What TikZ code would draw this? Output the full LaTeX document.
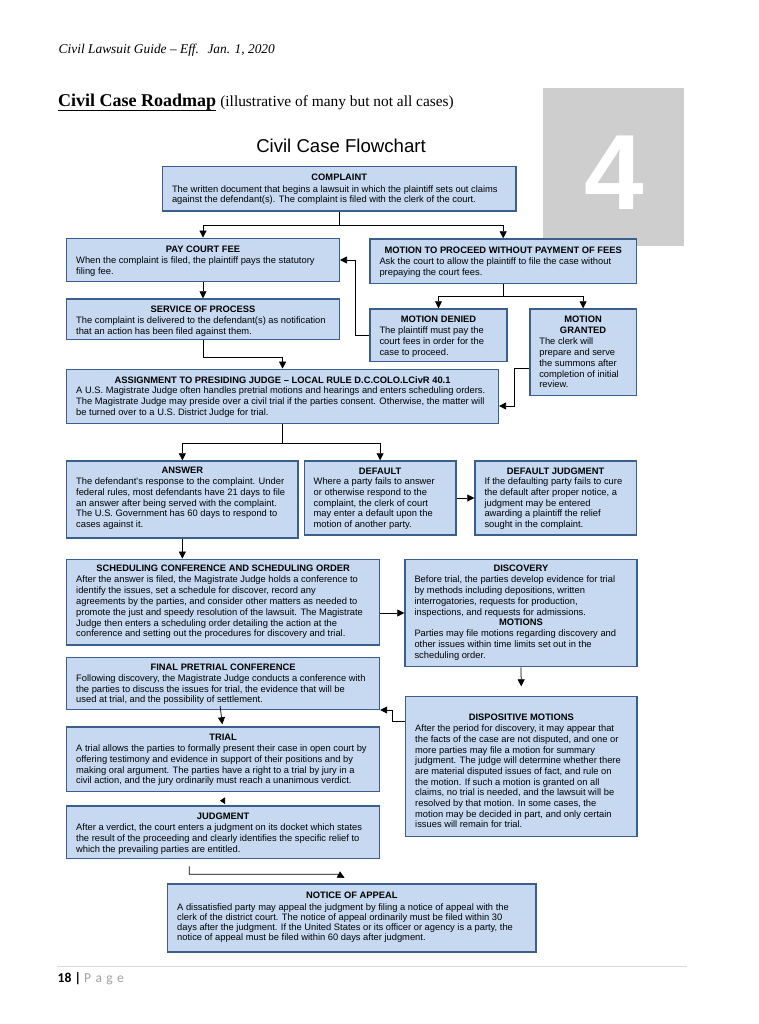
\documentclass[tikz,border=0pt]{standalone}
\usepackage{fontspec}
\setmainfont{Liberation Serif}
\newfontfamily\arialf{Liberation Sans}
\newfontfamily\calf{Carlito}
\usetikzlibrary{arrows.meta,calc,fit}
\definecolor{boxfill}{RGB}{198,217,241}
\definecolor{boxline}{RGB}{58,95,140}
\definecolor{tabgray}{RGB}{206,206,206}
\definecolor{footgray}{RGB}{160,160,160}
\definecolor{ruleg}{RGB}{217,217,217}
\newcommand\cbx[5]{\node[cb, fit={(#2,#3) (#4,#5)}] (#1) {};}
\newcommand\boxtxt[6]{%
  \node[ttl, anchor=base] (#1-t) at ($(#1.north)+(0,#2)$) {#5};
  \node[bdy, anchor=north west, font=\arialf\fontsize{9.35}{#4}\selectfont] (#1-b) at ($(#1.north west)+(10,#3-0.7*#4)$) {\strut #6};}
\newcommand\bodyat[5]{%
  \node[bdy, anchor=north west, font=\arialf\fontsize{9.35}{#4}\selectfont] (#1) at ($(#2.north west)+(10,#3-0.7*#4)$) {\strut #5};}
\begin{document}
\begin{tikzpicture}[x=1pt,y=-1pt,
  cb/.style={draw=boxline, fill=boxfill, line width=1.4pt, inner sep=0pt},
  ttl/.style={inner sep=0pt, font=\arialf\bfseries\fontsize{9.35}{11}\selectfont},
  bdy/.style={inner sep=0pt, align=left},
  conn/.style={draw=black, line width=0.75pt, -{Triangle[length=7pt,width=7pt]}},
  plain/.style={inner sep=0pt}]
\useasboundingbox (0,0) rectangle (759,1024);
\fill[white] (0,0) rectangle (759,1024);

% header
\node[plain, anchor=base west, font=\fontsize{13.4}{16}\selectfont\itshape] (hdr) at (58.5,53.5) {Civil Lawsuit Guide – Eff.\hspace{4pt} Jan. 1, 2020};
\node[plain, anchor=base west, font=\fontsize{18}{20}\selectfont\bfseries] (road) at (58,106.7) {Civil Case Roadmap};
\draw[line width=1.3pt] ($(road.base west)+(0,3.8)$) -- ($(road.base east)+(0,3.8)$);
\node[plain, anchor=base west, font=\fontsize{15.4}{18}\selectfont] (illus) at ($(road.base east)+(3.7,0)$) {(illustrative of many but not all cases)};

% chapter tab
\fill[tabgray] (543.3,88.3) rectangle (684.3,245.7);
\node[plain, anchor=base, text=white, font=\arialf\bfseries\fontsize{107}{107}\selectfont] (four) at (614,210) {4};

\node[plain, anchor=base, font=\arialf\fontsize{18.6}{22}\selectfont] (fctitle) at (341,152.7) {Civil Case Flowchart};

% boxes
\cbx{complaint}{162.5}{166.7}{516}{211}
\cbx{pay}{66.7}{238.3}{339.3}{281.7}
\cbx{proceed}{370}{239}{636.4}{283.3}
\cbx{service}{66.7}{299}{339.3}{339.5}
\cbx{denied}{370}{309}{507}{361.7}
\cbx{granted}{529.8}{309}{636.4}{395.7}
\cbx{assign}{66.7}{369.3}{498.4}{423.3}
\cbx{answer}{66.7}{461}{298}{538}
\cbx{default}{304.2}{461}{456}{535}
\cbx{dj}{475}{461}{636.4}{535}
\cbx{sched}{66.7}{559.3}{379.5}{645}
\cbx{disc}{405}{559.3}{637}{666.7}
\cbx{final}{66.7}{657.3}{379.5}{709.3}
\cbx{dispo}{405.7}{696.7}{637}{836.7}
\cbx{trial}{66.7}{727}{379.5}{791.7}
\cbx{judgment}{66.7}{806}{379.5}{858.7}
\cbx{notice}{167.7}{884}{536}{952}

% texts
\boxtxt{complaint}{14.4}{26}{10.7}{COMPLAINT}{The written document that begins a lawsuit in which the plaintiff sets out claims\\against the defendant(s). The complaint is filed with the clerk of the court.}
\boxtxt{pay}{15.1}{25.8}{11}{PAY COURT FEE}{When the complaint is filed, the plaintiff pays the statutory\\filing fee.}
\boxtxt{proceed}{15.1}{26.1}{10.6}{MOTION TO PROCEED WITHOUT PAYMENT OF FEES}{Ask the court to allow the plaintiff to file the case without\\prepaying the court fees.}
\boxtxt{service}{14.4}{25.1}{10.7}{SERVICE OF PROCESS}{The complaint is delivered to the defendant(s) as notification\\that an action has been filed against them.}
\boxtxt{denied}{14.4}{25.4}{10.7}{MOTION DENIED}{The plaintiff must pay the\\court fees in order for the\\case to proceed.}
\boxtxt{granted}{14.4}{36.4}{10.7}{MOTION}{The clerk will\\prepare and serve\\the summons after\\completion of initial\\review.}
\node[ttl, anchor=base] (granted-t2) at ($(granted.north)+(0,25.4)$) {GRANTED};
\boxtxt{assign}{14.8}{25.1}{10.7}{ASSIGNMENT TO PRESIDING JUDGE – LOCAL RULE D.C.COLO.LCivR 40.1}{A U.S. Magistrate Judge often handles pretrial motions and hearings and enters scheduling orders.\\The Magistrate Judge may preside over a civil trial if the parties consent. Otherwise, the matter will\\be turned over to a U.S. District Judge for trial.}
\boxtxt{answer}{13.4}{24.1}{10.75}{ANSWER}{The defendant's response to the complaint. Under\\federal rules, most defendants have 21 days to file\\an answer after being served with the complaint.\\The U.S. Government has 60 days to respond to\\cases against it.}
\boxtxt{default}{14}{24.1}{10.75}{DEFAULT}{Where a party fails to answer\\or otherwise respond to the\\complaint, the clerk of court\\may enter a default upon the\\motion of another party.}
\boxtxt{dj}{14}{24.1}{10.75}{DEFAULT JUDGMENT}{If the defaulting party fails to cure\\the default after proper notice, a\\judgment may be entered\\awarding a plaintiff the relief\\sought in the complaint.}
\boxtxt{sched}{13.1}{24.1}{10.8}{SCHEDULING CONFERENCE AND SCHEDULING ORDER}{After the answer is filed, the Magistrate Judge holds a conference to\\identify the issues, set a schedule for discover, record any\\agreements by the parties, and consider other matters as needed to\\promote the just and speedy resolution of the lawsuit. The Magistrate\\Judge then enters a scheduling order detailing the action at the\\conference and setting out the procedures for discovery and trial.}
\boxtxt{disc}{13.1}{24.1}{10.8}{DISCOVERY}{Before trial, the parties develop evidence for trial\\by methods including depositions, written\\interrogatories, requests for production,\\inspections, and requests for admissions.}
\node[ttl, anchor=base] (disc-t2) at ($(disc.north)+(0,67.1)$) {MOTIONS};
\bodyat{disc-b2}{disc}{78.1}{10.8}{Parties may file motions regarding discovery and\\other issues within time limits set out in the\\scheduling order.}
\boxtxt{final}{13.8}{24.4}{10.85}{FINAL PRETRIAL CONFERENCE}{Following discovery, the Magistrate Judge conducts a conference with\\the parties to discuss the issues for trial, the evidence that will be\\used at trial, and the possibility of settlement.}
\boxtxt{dispo}{24.3}{35.7}{10.65}{DISPOSITIVE MOTIONS}{After the period for discovery, it may appear that\\the facts of the case are not disputed, and one or\\more parties may file a motion for summary\\judgment. The judge will determine whether there\\are material disputed issues of fact, and rule on\\the motion. If such a motion is granted on all\\claims, no trial is needed, and the lawsuit will be\\resolved by that motion. In some cases, the\\motion may be decided in part, and only certain\\issues will remain for trial.}
\boxtxt{trial}{14.1}{24.7}{10.9}{TRIAL}{A trial allows the parties to formally present their case in open court by\\offering testimony and evidence in support of their positions and by\\making oral argument. The parties have a right to a trial by jury in a\\civil action, and the jury ordinarily must reach a unanimous verdict.}
\boxtxt{judgment}{14.1}{25.1}{10.7}{JUDGMENT}{After a verdict, the court enters a judgment on its docket which states\\the result of the proceeding and clearly identifies the specific relief to\\which the prevailing parties are entitled.}
\boxtxt{notice}{15.4}{26.7}{10}{NOTICE OF APPEAL}{A dissatisfied party may appeal the judgment by filing a notice of appeal with the\\clerk of the district court. The notice of appeal ordinarily must be filed within 30\\days after the judgment. If the United States or its officer or agency is a party, the\\notice of appeal must be filed within 60 days after judgment.}

% connectors
\draw[conn] (complaint.south) -- ++(0,14) -| (pay.north);
\draw[conn] (complaint.south) -- ++(0,14) -| (proceed.north);
\draw[conn] (pay.south) -- (service.north);
\draw[conn] (proceed.south) -- ++(0,12.4) -| (denied.north);
\draw[conn] (proceed.south) -- ++(0,12.4) -| (granted.north);
\draw[conn] (denied.west) -- ++(-14,0) |- (pay.east);
\draw[conn] (service.south) -- ++(0,17) -| (assign.north);
\coordinate (gr-out) at ($(granted.north west)+(0,60.3)$);
\coordinate (as-in) at ($(assign.north east)+(0,37.4)$);
\draw[conn] (gr-out) -- ++(-15,0) |- (as-in);
\draw[conn] (assign.south) -- ++(0,19.4) -| (answer.north);
\draw[conn] (assign.south) -- ++(0,19.4) -| (default.north);
\draw[conn] (default.east) -- (dj.west);
\draw[conn] (answer.south) -- (answer.south |- sched.north);
\draw[conn] (sched.east |- disc.west) -- (disc.west);
\draw[conn, shorten >=9.7pt] (disc.south) -- (dispo.north);
\coordinate (dp-out) at ($(dispo.north west)+(0,25.3)$);
\draw[conn] (dp-out) -- ++(-13,0) |- (final.south east);
\draw[conn] ($(final.south)+(-3,-4)$) -- ($(trial.north)+(-0.8,-2)$);
\coordinate (tj-a) at ($(trial.south)+(-2.6,8.3)$);
\coordinate (tj-b) at ($(trial.south)+(-3.1,8.3)$);
\draw[conn, -{Triangle[length=5pt,width=6.5pt]}] (tj-a) -- (tj-b);
\coordinate (jn-a) at ($(judgment.south west)+(123.3,7)$);
\coordinate (jn-b) at ($(notice.north west)+(171,-9)$);
\coordinate (jn-c) at ($(notice.north west)+(177.5,-5.5)$);
\draw[conn] (jn-a) |- (jn-b) -- (jn-c);

% footer
\draw[ruleg, line width=0.8pt] (57,966) -- (687,966);
\node[plain, anchor=base west, font=\calf\fontsize{13.6}{16}\selectfont] (foot) at (57.5,982) {\textbf{18 |} \textcolor{footgray}{P\hspace{4.4pt}a\hspace{4.4pt}g\hspace{4.4pt}e}};
\end{tikzpicture}
\end{document}
